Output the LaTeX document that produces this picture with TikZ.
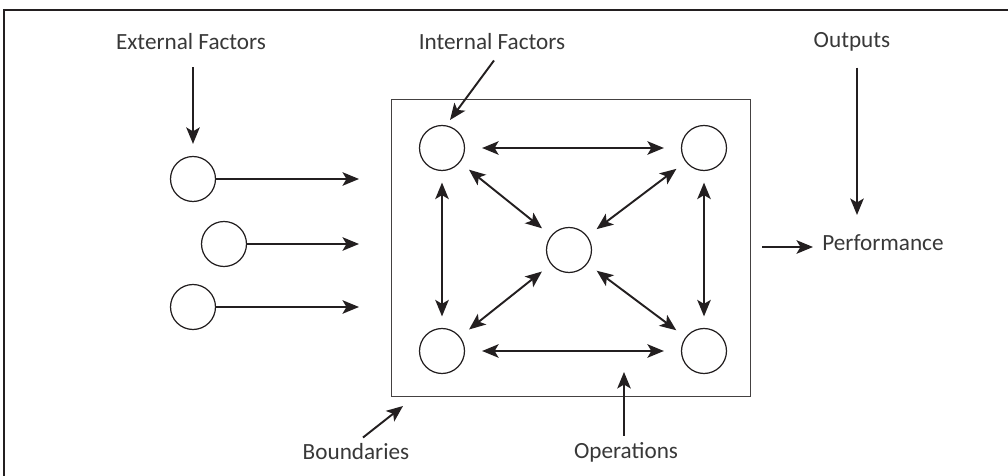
\documentclass[tikz,border=0pt]{standalone}
\usepackage{fontspec}
\setmainfont{Carlito}
\usetikzlibrary{arrows.meta,positioning}
\definecolor{ink}{HTML}{231F20}
\definecolor{txt}{HTML}{383838}
\tikzset{
  circF/.style={ draw=ink, circle, line width=0.7pt, minimum size=0.9cm, inner sep=0pt }
}
\tikzset{
  lbl/.style={ text=txt, font=\fontsize{13.2}{15}\selectfont, inner sep=0pt }
}
\tikzset{
  arr/.style={ draw=ink, line width=1.1pt, >={Stealth[length=0.33cm, width=0.27cm, inset=0.08cm]}, -> }
}
\tikzset{
  darr/.style={ arr, <-> }
}

\begin{document}
\begin{tikzpicture}[x=0.02cm, y=-0.02cm]
  \useasboundingbox (0,0) rectangle (1008,476);
  \draw[ink, line width=1.1pt] (4,480) -- (4,10) -- (1012,10);
  \node[draw=ink!85, line width=0.55pt, minimum width=7.2cm, minimum height=5.96cm, inner sep=0pt] (box) at (571,248) {};

  % labels
  \node[lbl] (ext) at (191,42) {External Factors};
  \node[lbl] (intl) at (492,42) {Internal Factors};
  \node[lbl] (outp) at (852,42) {Outputs};
  \node[lbl, anchor=west] (perf) at (822,243) {Performance};
  \node[lbl] (ops) at (626,452) {Operations};
  \node[lbl] (bnd) at (356,452) {Boundaries};

  % inputs
  \node[circF] (in1) at (193,179) {};
  \node[circF] (in2) at (224,244) {};
  \node[circF] (in3) at (193,307) {};
  \coordinate (inTip) at (359,0);
  \draw[arr] (in1) -- (in1 -| inTip);
  \draw[arr] (in2) -- (in2 -| inTip);
  \draw[arr] (in3) -- (in3 -| inTip);

  % inside the box
  \node[circF] (tl) at (442,148) {};
  \node[circF] (tr) at (704,148) {};
  \node[circF] (md) at (569,250) {};
  \node[circF] (bl) at (442,351) {};
  \node[circF] (br) at (704,351) {};
  \draw[darr, shorten <=0.34cm, shorten >=0.34cm] (tl) -- (tr);
  \draw[darr, shorten <=0.34cm, shorten >=0.34cm] (bl) -- (br);
  \foreach \a/\b in {tl/bl, tr/br, tl/md, tr/md, bl/md, br/md}
    \draw[darr, shorten <=0.23cm, shorten >=0.23cm] (\a) -- (\b);

  % pointers from the labels
  \coordinate (intlTip) at (450,120);
  \coordinate (outTip) at (857,215);
  \coordinate (perfTail) at (762,247);
  \coordinate (opsTip) at (624,372);
  \coordinate (bndTip) at (403,406);
  \draw[arr, shorten <=0.34cm, shorten >=0.24cm] (in1 |- ext.south) -- (in1);
  \draw[arr] ([shift={(2,10)}]intl.south) -- (intlTip);
  \draw[arr] ([shift={(5,16)}]outp.south) -- (outTip);
  \draw[arr, shorten >=0.18cm] (perfTail) -- (perfTail -| perf.west);
  \draw[arr] ([shift={(-2,-6)}]ops.north) -- (opsTip);
  \draw[arr] ([shift={(7,-6)}]bnd.north) -- (bndTip);
\end{tikzpicture}
\end{document}
